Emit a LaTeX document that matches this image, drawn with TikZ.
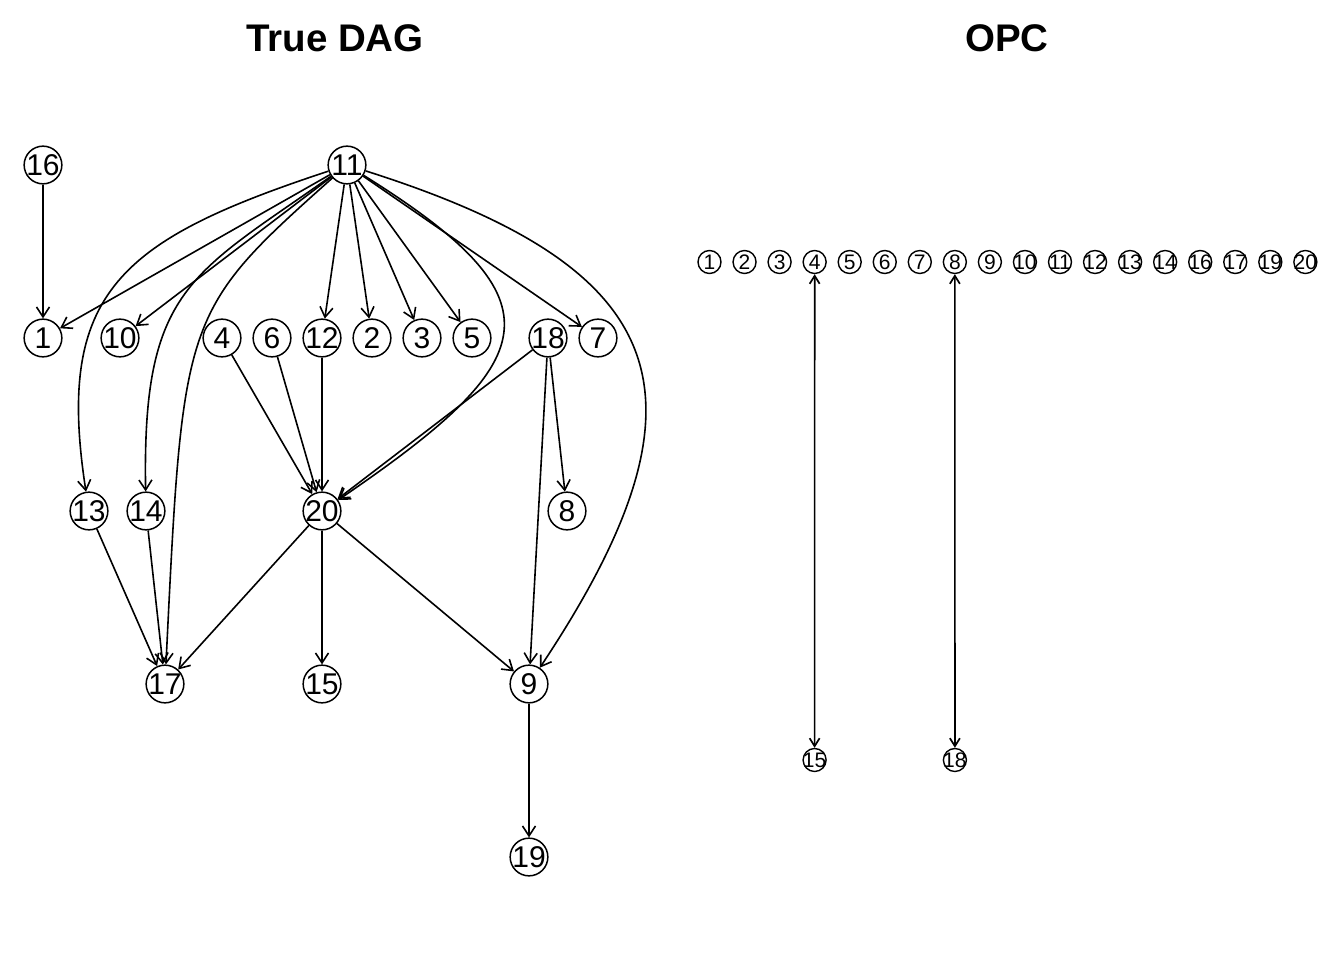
\documentclass[tikz,border=0pt]{standalone}
\usepackage{fontspec}
\setmainfont{Liberation Sans}
\usetikzlibrary{arrows.meta}
\newcommand{\zl}[1]{\makebox[0pt][c]{#1}}
\begin{document}
\begin{tikzpicture}[x=1pt,y=-1pt,
  big/.style={circle,draw,line width=1.5pt,minimum size=37.7pt,inner sep=0pt,font=\fontsize{30}{30}\selectfont},
  small/.style={circle,draw,line width=1.4pt,minimum size=23pt,inner sep=0pt,font=\fontsize{21}{21}\selectfont},
  arr/.style={line width=1.6pt,-{Straight Barb[length=10pt,width=13pt]}},
  darr/.style={line width=1.7pt,{Straight Barb[length=8pt,width=10pt]}-{Straight Barb[length=8pt,width=10pt]}},
  ttl/.style={anchor=base,font=\bfseries\fontsize{38.5}{38.5}\selectfont}]
\useasboundingbox (0,0) rectangle (1344,960);
\fill[white] (0,0) rectangle (1344,960);
% titles
\node[ttl] (t1) at (335,52) {True DAG};
\node[ttl] (t2) at (1007,52) {OPC};
% left nodes
\node[big] (l16) at (43,165) {\zl{16}};
\node[big] (l11) at (347,165) {\zl{11}};
\node[big] (l1) at (43,338) {\zl{1}};
\node[big] (l10) at (120,338) {\zl{10}};
\node[big] (l4) at (222,338) {\zl{4}};
\node[big] (l6) at (272,338) {\zl{6}};
\node[big] (l12) at (322,338) {\zl{12}};
\node[big] (l2) at (372,338) {\zl{2}};
\node[big] (l3) at (422,338) {\zl{3}};
\node[big] (l5) at (472,338) {\zl{5}};
\node[big] (l18) at (548,338) {\zl{18}};
\node[big] (l7) at (598,338) {\zl{7}};
\node[big] (l13) at (89,511) {\zl{13}};
\node[big] (l14) at (146,511) {\zl{14}};
\node[big] (l20) at (322,511) {\zl{20}};
\node[big] (l8) at (567,511) {\zl{8}};
\node[big] (l17) at (165,684) {\zl{17}};
\node[big] (l15) at (322,684) {\zl{15}};
\node[big] (l9) at (529,684) {\zl{9}};
\node[big] (l19) at (529,857) {\zl{19}};
% left edges
\draw[arr] (l16) -- (l1);
\draw[arr] (l11) -- (l1);
\draw[arr] (l11) -- (l10);
\draw[arr] (l11) -- (l12);
\draw[arr] (l11) -- (l2);
\draw[arr] (l11) -- (l3);
\draw[arr] (l11) -- (l5);
\draw[arr] (l11) -- (l7);
\draw[arr] (l11) .. controls (120,240) and (55,292) .. (l13);
\draw[arr] (l11) .. controls (191,275) and (142,288) .. (l14);
\draw[arr] (l11) .. controls (182,312) and (183,315) .. (l17);
\draw[arr] (l11) .. controls (567,302) and (542,361) .. (l20);
\draw[arr] (l11) .. controls (672,268) and (722,394) .. (l9);
\draw[arr] (l4) -- (l20);
\draw[arr] (l6) -- (l20);
\draw[arr] (l12) -- (l20);
\draw[arr] (l18) -- (l20);
\draw[arr] (l18) -- (l9);
\draw[arr] (l18) -- (l8);
\draw[arr] (l13) -- (l17);
\draw[arr] (l14) -- (l17);
\draw[arr] (l20) -- (l17);
\draw[arr] (l20) -- (l15);
\draw[arr] (l20) -- (l9);
\draw[arr] (l9) -- (l19);
% right nodes
\foreach \lab [count=\k from 0] in {1,2,3,4,5,6,7,8,9,10,11,12,13,14,16,17,19,20}
  \node[small] (r\lab) at (709.5+35.05*\k,262) {\zl{\lab}};
\node[small] (r15) at (814.6,760) {\zl{15}};
\node[small] (r18) at (954.9,760) {\zl{18}};
\draw[darr] (r4) -- (r15);
\draw[darr] (r8) -- (r18);
\end{tikzpicture}
\end{document}
